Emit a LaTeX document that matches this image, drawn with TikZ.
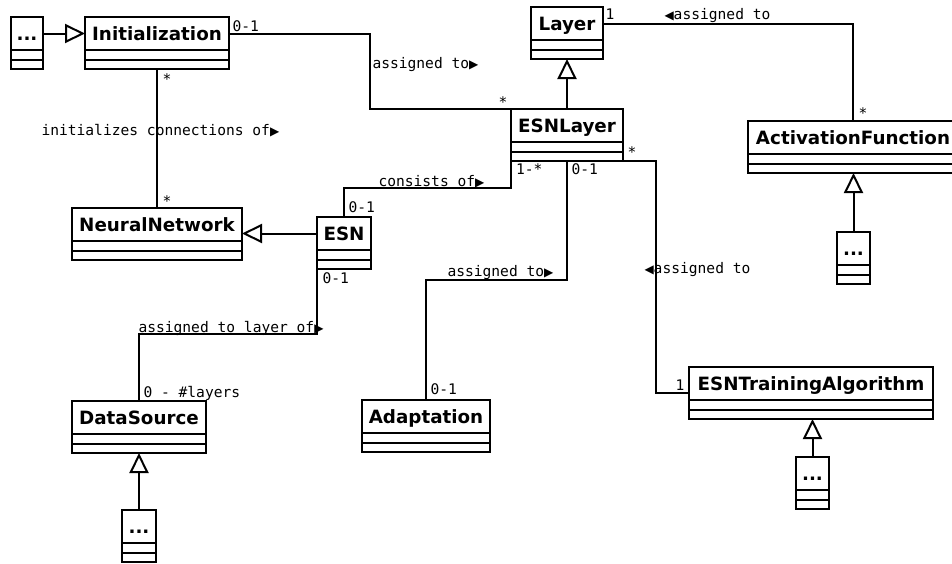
\documentclass[tikz,border=0pt]{standalone}
\usepackage{fontspec}
\setsansfont{DejaVu Sans}
\setmonofont{DejaVu Sans Mono}
\newfontfamily\trifont{DejaVu Sans}
\newcommand{\rtri}{{\trifont\fontsize{12}{14}\selectfont ▶}}
\newcommand{\ltri}{{\trifont\fontsize{12}{14}\selectfont ◀}}
\usetikzlibrary{arrows.meta, positioning, calc}

\begin{document}
\begin{tikzpicture}[x=1pt, y=-1pt, line width=2pt]
    \tikzstyle{classname}=[draw, rectangle, inner sep=0pt, outer sep=0pt, minimum height=33pt, text height=13.4pt, text depth=0pt, font=\sffamily\bfseries\fontsize{18.3}{20}\selectfont]
    \tikzstyle{classpart}=[draw, rectangle, inner sep=0pt, outer sep=0pt, minimum height=9.5pt]
    \tikzstyle{gen}=[-{Triangle[open, length=20pt, width=19pt]}]
    \tikzstyle{mult}=[inner sep=0pt, anchor=base west, font=\ttfamily\fontsize{14.6}{16}\selectfont]

    \useasboundingbox (0,0) rectangle (952,563);

    % Classes
    \foreach \name/\x/\y/\w/\txt in {init/85/17/144/Initialization, layer/531/7/72/Layer,
        esnlayer/511/109/112/ESNLayer, actf/748/121/210/ActivationFunction,
        nn/72/208/170/NeuralNetwork, esn/317/217/54/ESN, ds/72/401/134/DataSource,
        adapt/362/400/128/Adaptation, esnta/689/367/244/ESNTrainingAlgorithm} {
        \node[classname, minimum width=\w pt, anchor=north west] (\name) at (\x,\y) {\txt};
        \node[classpart, minimum width=\w pt, anchor=north] (\name-a) at (\name.south) {};
        \node[classpart, minimum width=\w pt, anchor=north] (\name-b) at (\name-a.south) {};
    }

    % Subclass placeholders
    \foreach \name/\x/\y/\w in {dinit/11/17/32, dactf/837/232/33, dds/122/510/34, desnta/796/457/33} {
        \node[classname, minimum width=\w pt, anchor=north west] (\name) at (\x,\y) {...};
        \node[classpart, minimum width=\w pt, anchor=north] (\name-a) at (\name.south) {};
        \node[classpart, minimum width=\w pt, anchor=north] (\name-b) at (\name-a.south) {};
    }

    % Associations
    \draw (init.east) -- ++(141,0) |- (esnlayer.north west);
    \draw (init-b.south) -- (nn.north);
    \draw (layer.east) -| (actf.north);
    \draw (esn.north) -- ++(0,-29) -| (esnlayer-b.south west);
    \draw (esnlayer-b.south) -- ++(0,119) -| (adapt.north);
    \draw (esnlayer-b.south east) -- ++(33,0) |- ([yshift=-26pt]esnta.north west);
    \draw (esn-b.south west) -- ++(0,65) -| (ds.north);

    % Generalizations
    \draw[gen] (dinit.east) -- (init.west);
    \draw[gen] (esnlayer.north) -- (layer-b.south);
    \draw[gen] (esn.west) -- (nn.east |- esn.west);
    \draw[gen] (dactf.north) -- (dactf.north |- actf-b.south);
    \draw[gen] (dds.north) -- (dds.north |- ds-b.south);
    \draw[gen] (desnta.north) -- (desnta.north |- esnta-b.south);

    % Multiplicities
    \foreach \name/\x/\y/\txt in {m1/231.5/31/0-1, m2/161.5/84/*, m3/161.5/206/*, m4/497.5/107/*,
        m5/604.5/19/1, m6/857.5/118/*, m7/515/174/1-*, m8/570.5/174/0-1, m9/626.5/157/*,
        m10/347.5/212/0-1, m11/321.5/283/0-1, m12/429.5/394/0-1, m13/142.5/397/0 - \#layers,
        m14/674.5/390/1} {
        \node[mult] (\name) at (\x,\y) {\txt};
    }

    % Role names
    \node[mult] (r1) at (40.5,135) {initializes connections of\rtri};
    \node[mult] (r2) at (371.5,68) {assigned to\rtri};
    \node[mult] (r3) at (663.5,19) {\ltri assigned to};
    \node[mult] (r4) at (377.5,186) {consists of\rtri};
    \node[mult] (r5) at (137.5,332) {assigned to layer of\rtri};
    \node[mult] (r6) at (446.5,276) {assigned to\rtri};
    \node[mult] (r7) at (643.5,273) {\ltri assigned to};
\end{tikzpicture}
\end{document}
